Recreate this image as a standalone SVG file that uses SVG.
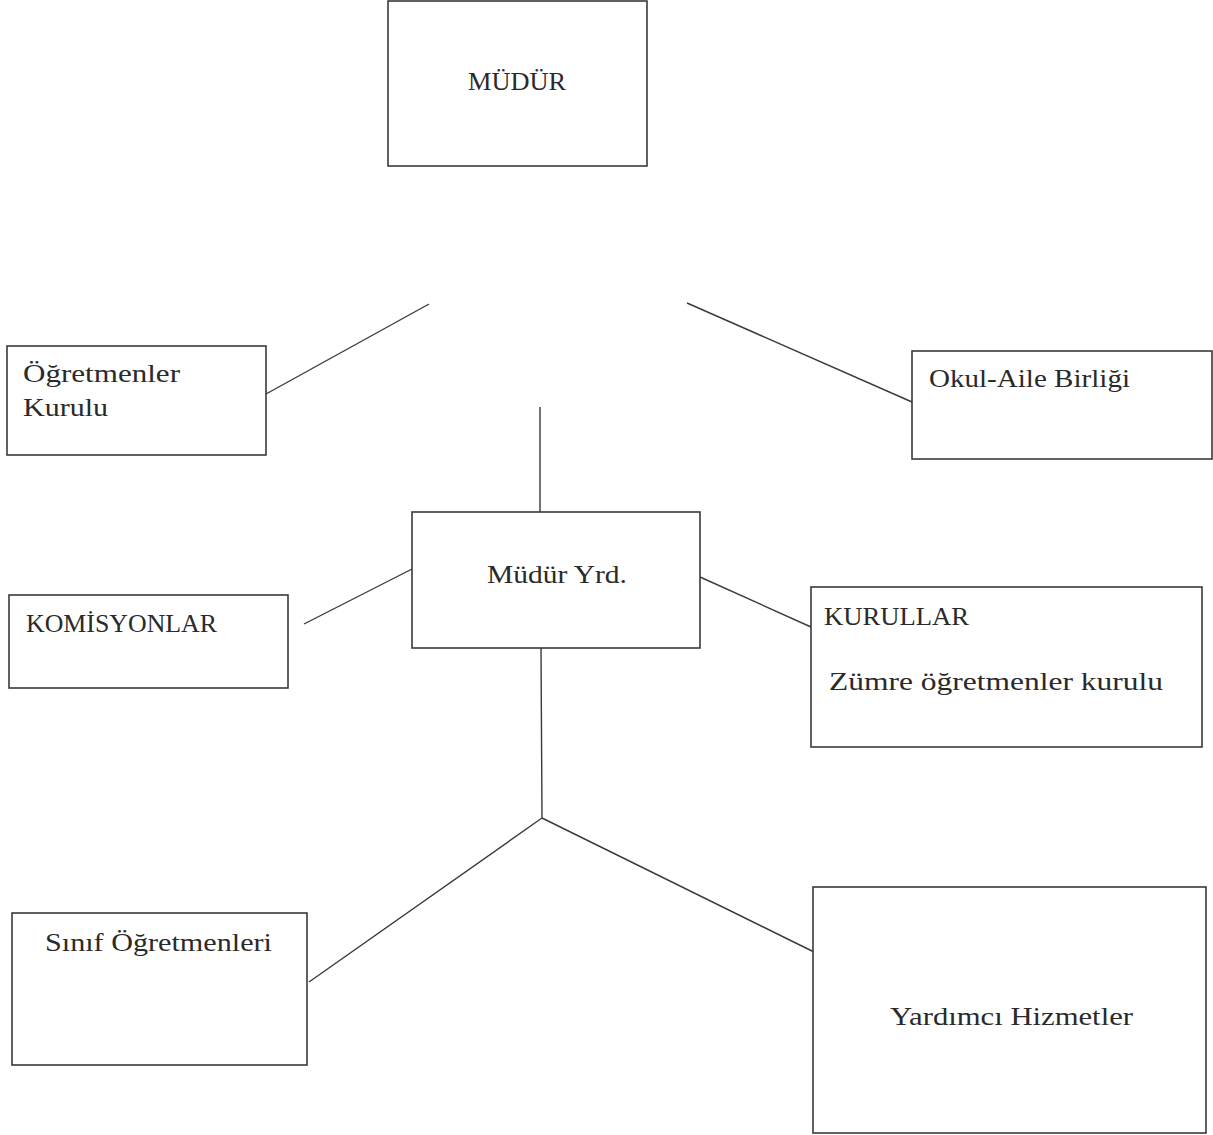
<svg xmlns="http://www.w3.org/2000/svg" width="1213" height="1135" viewBox="0 0 1213 1135">
<style>
.box{fill:#fff;stroke:#3a3a3a;stroke-width:1.6}
.ln{stroke:#3a3a3a;stroke-width:1.4;fill:none}
.t{font-family:"Liberation Serif","DejaVu Serif",serif;font-size:26px;fill:#2a2a2a}
</style>
<rect width="1213" height="1135" fill="#fff"/>
<g id="connectors">
<line class="ln" x1="266" y1="394" x2="429" y2="304"/>
<line class="ln" x1="687" y1="303" x2="912" y2="402"/>
<line class="ln" x1="540" y1="407" x2="540" y2="512"/>
<line class="ln" x1="304" y1="624" x2="412" y2="569"/>
<line class="ln" x1="700" y1="577" x2="811" y2="627"/>
<polyline class="ln" points="541,648 542,818 309,982"/>
<line class="ln" x1="542" y1="818" x2="814" y2="952"/>
</g>
<g id="mudur">
<rect class="box" x="388" y="1" width="259" height="165"/>
<text class="t" x="468" y="90" textLength="98" lengthAdjust="spacingAndGlyphs">MÜDÜR</text>
</g>
<g id="ogretmenler-kurulu">
<rect class="box" x="7" y="346" width="259" height="109"/>
<text class="t" x="23" y="382" textLength="157" lengthAdjust="spacingAndGlyphs">Öğretmenler</text>
<text class="t" x="23" y="416" textLength="85" lengthAdjust="spacingAndGlyphs">Kurulu</text>
</g>
<g id="okul-aile">
<rect class="box" x="912" y="351" width="300" height="108"/>
<text class="t" x="929" y="387" textLength="201" lengthAdjust="spacingAndGlyphs">Okul-Aile Birliği</text>
</g>
<g id="mudur-yrd">
<rect class="box" x="412" y="512" width="288" height="136"/>
<text class="t" x="487" y="583" textLength="140" lengthAdjust="spacingAndGlyphs">Müdür Yrd.</text>
</g>
<g id="komisyonlar">
<rect class="box" x="9" y="595" width="279" height="93"/>
<text class="t" x="26" y="632" textLength="191" lengthAdjust="spacingAndGlyphs">KOMİSYONLAR</text>
</g>
<g id="kurullar">
<rect class="box" x="811" y="587" width="391" height="160"/>
<text class="t" x="824" y="625" textLength="145" lengthAdjust="spacingAndGlyphs">KURULLAR</text>
<text class="t" x="829" y="690" textLength="334" lengthAdjust="spacingAndGlyphs">Zümre öğretmenler kurulu</text>
</g>
<g id="sinif-ogretmenleri">
<rect class="box" x="12" y="913" width="295" height="152"/>
<text class="t" x="45" y="951" textLength="227" lengthAdjust="spacingAndGlyphs">Sınıf Öğretmenleri</text>
</g>
<g id="yardimci-hizmetler">
<rect class="box" x="813" y="887" width="393" height="246"/>
<text class="t" x="890" y="1025" textLength="243" lengthAdjust="spacingAndGlyphs">Yardımcı Hizmetler</text>
</g>
</svg>
